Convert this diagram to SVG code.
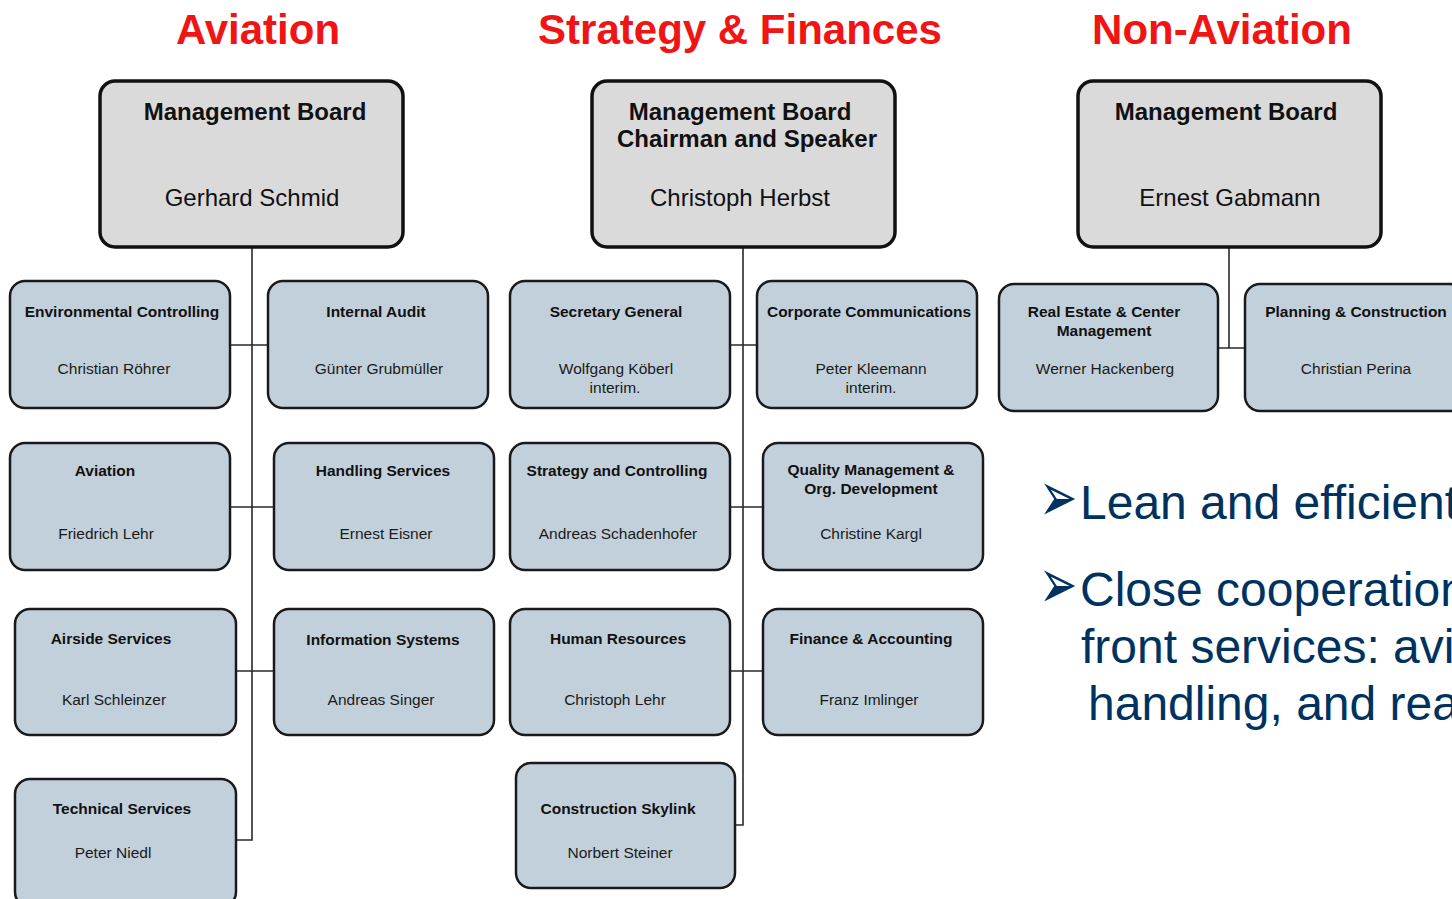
<svg xmlns="http://www.w3.org/2000/svg" width="1452" height="899" viewBox="0 0 1452 899">
<style>
.title{font-family:"Liberation Sans",Arial,sans-serif;font-weight:bold;font-size:42px;fill:#f01414;text-anchor:middle}
.board rect{fill:#dadada;stroke:#111;stroke-width:3.5}
.unit rect{fill:#c2d0db;stroke:#1a1a1a;stroke-width:2.5}
.bh{font-family:"Liberation Sans",Arial,sans-serif;font-weight:bold;font-size:24px;fill:#111;text-anchor:middle}
.bn{font-family:"Liberation Sans",Arial,sans-serif;font-size:24px;fill:#111;text-anchor:middle}
.uh{font-family:"Liberation Sans",Arial,sans-serif;font-weight:bold;font-size:15.5px;fill:#111;text-anchor:middle}
.un{font-family:"Liberation Sans",Arial,sans-serif;font-size:15.5px;fill:#1a1a1a;text-anchor:middle}
.conn{stroke:#2a2a2a;stroke-width:1.6;fill:none}
.bul{font-family:"Liberation Sans",Arial,sans-serif;font-size:48px;fill:#00325f}
.arr{font-family:"DejaVu Sans",sans-serif;font-size:54px;fill:#00325f}
</style>
<rect width="1452" height="899" fill="#fff"/>
<text class="title" x="258" y="44">Aviation</text>
<text class="title" x="740" y="44">Strategy &amp; Finances</text>
<text class="title" x="1222" y="44">Non-Aviation</text>

<g id="connectors" class="conn">
<path d="M252 247V840H236"/>
<path d="M230 345H268M230 507H274M236 671H274"/>
<path d="M743 247V825H735"/>
<path d="M730 345H757M730 507H763M730 671H763"/>
<path d="M1229 247V348M1218 348H1245"/>
</g>

<g id="board-aviation" class="board"><rect x="100" y="81" width="303" height="166" rx="15"/>
<text class="bh" x="255" y="120">Management Board</text><text class="bn" x="252" y="206">Gerhard Schmid</text></g>
<g id="board-strategy" class="board"><rect x="592" y="81" width="303" height="166" rx="15"/>
<text class="bh" x="740" y="120">Management Board</text><text class="bh" x="747" y="147">Chairman and Speaker</text><text class="bn" x="740" y="206">Christoph Herbst</text></g>
<g id="board-nonaviation" class="board"><rect x="1078" y="81" width="303" height="166" rx="15"/>
<text class="bh" x="1226" y="120">Management Board</text><text class="bn" x="1230" y="206">Ernest Gabmann</text></g>

<g id="env-controlling" class="unit"><rect x="10" y="281" width="220" height="127" rx="15"/>
<text class="uh" x="122" y="317">Environmental Controlling</text><text class="un" x="114" y="374">Christian Röhrer</text></g>
<g id="internal-audit" class="unit"><rect x="268" y="281" width="220" height="127" rx="15"/>
<text class="uh" x="376" y="317">Internal Audit</text><text class="un" x="379" y="374">Günter Grubmüller</text></g>
<g id="aviation" class="unit"><rect x="10" y="443" width="220" height="127" rx="15"/>
<text class="uh" x="105" y="476">Aviation</text><text class="un" x="106" y="539">Friedrich Lehr</text></g>
<g id="handling-services" class="unit"><rect x="274" y="443" width="220" height="127" rx="15"/>
<text class="uh" x="383" y="476">Handling Services</text><text class="un" x="386" y="539">Ernest Eisner</text></g>
<g id="airside-services" class="unit"><rect x="15" y="609" width="221" height="126" rx="15"/>
<text class="uh" x="111" y="644">Airside Services</text><text class="un" x="114" y="705">Karl Schleinzer</text></g>
<g id="information-systems" class="unit"><rect x="274" y="609" width="220" height="126" rx="15"/>
<text class="uh" x="383" y="645">Information Systems</text><text class="un" x="381" y="705">Andreas Singer</text></g>
<g id="technical-services" class="unit"><rect x="15" y="779" width="221" height="128" rx="15"/>
<text class="uh" x="122" y="814">Technical Services</text><text class="un" x="113" y="858">Peter Niedl</text></g>

<g id="secretary-general" class="unit"><rect x="510" y="281" width="220" height="127" rx="15"/>
<text class="uh" x="616" y="317">Secretary General</text><text class="un" x="616" y="374">Wolfgang Köberl</text><text class="un" x="615" y="393">interim.</text></g>
<g id="corporate-communications" class="unit"><rect x="757" y="281" width="220" height="127" rx="15"/>
<text class="uh" x="869" y="317">Corporate Communications</text><text class="un" x="871" y="374">Peter Kleemann</text><text class="un" x="871" y="393">interim.</text></g>
<g id="strategy-controlling" class="unit"><rect x="510" y="443" width="220" height="127" rx="15"/>
<text class="uh" x="617" y="476">Strategy and Controlling</text><text class="un" x="618" y="539">Andreas Schadenhofer</text></g>
<g id="quality-management" class="unit"><rect x="763" y="443" width="220" height="127" rx="15"/>
<text class="uh" x="871" y="475">Quality Management &amp;</text><text class="uh" x="871" y="494">Org. Development</text><text class="un" x="871" y="539">Christine Kargl</text></g>
<g id="human-resources" class="unit"><rect x="510" y="609" width="220" height="126" rx="15"/>
<text class="uh" x="618" y="644">Human Resources</text><text class="un" x="615" y="705">Christoph Lehr</text></g>
<g id="finance-accounting" class="unit"><rect x="763" y="609" width="220" height="126" rx="15"/>
<text class="uh" x="871" y="644">Finance &amp; Accounting</text><text class="un" x="869" y="705">Franz Imlinger</text></g>
<g id="construction-skylink" class="unit"><rect x="516" y="763" width="219" height="125" rx="15"/>
<text class="uh" x="618" y="814">Construction Skylink</text><text class="un" x="620" y="858">Norbert Steiner</text></g>

<g id="real-estate" class="unit"><rect x="999" y="284" width="219" height="127" rx="15"/>
<text class="uh" x="1104" y="317">Real Estate &amp; Center</text><text class="uh" x="1104" y="336">Management</text><text class="un" x="1105" y="374">Werner Hackenberg</text></g>
<g id="planning-construction" class="unit"><rect x="1245" y="284" width="220" height="127" rx="15"/>
<text class="uh" x="1356" y="317">Planning &amp; Construction</text><text class="un" x="1356" y="374">Christian Perina</text></g>

<g id="bullets">
<text class="arr" transform="translate(1039,521) scale(0.85,1.3)">➢</text>
<text class="bul" x="1080" y="519">Lean and efficient</text>
<text class="arr" transform="translate(1039,608) scale(0.85,1.3)">➢</text>
<text class="bul" x="1080" y="606">Close cooperation</text>
<text class="bul" x="1081" y="663">front services: avi</text>
<text class="bul" x="1088" y="720">handling, and rea</text>
</g>
</svg>
